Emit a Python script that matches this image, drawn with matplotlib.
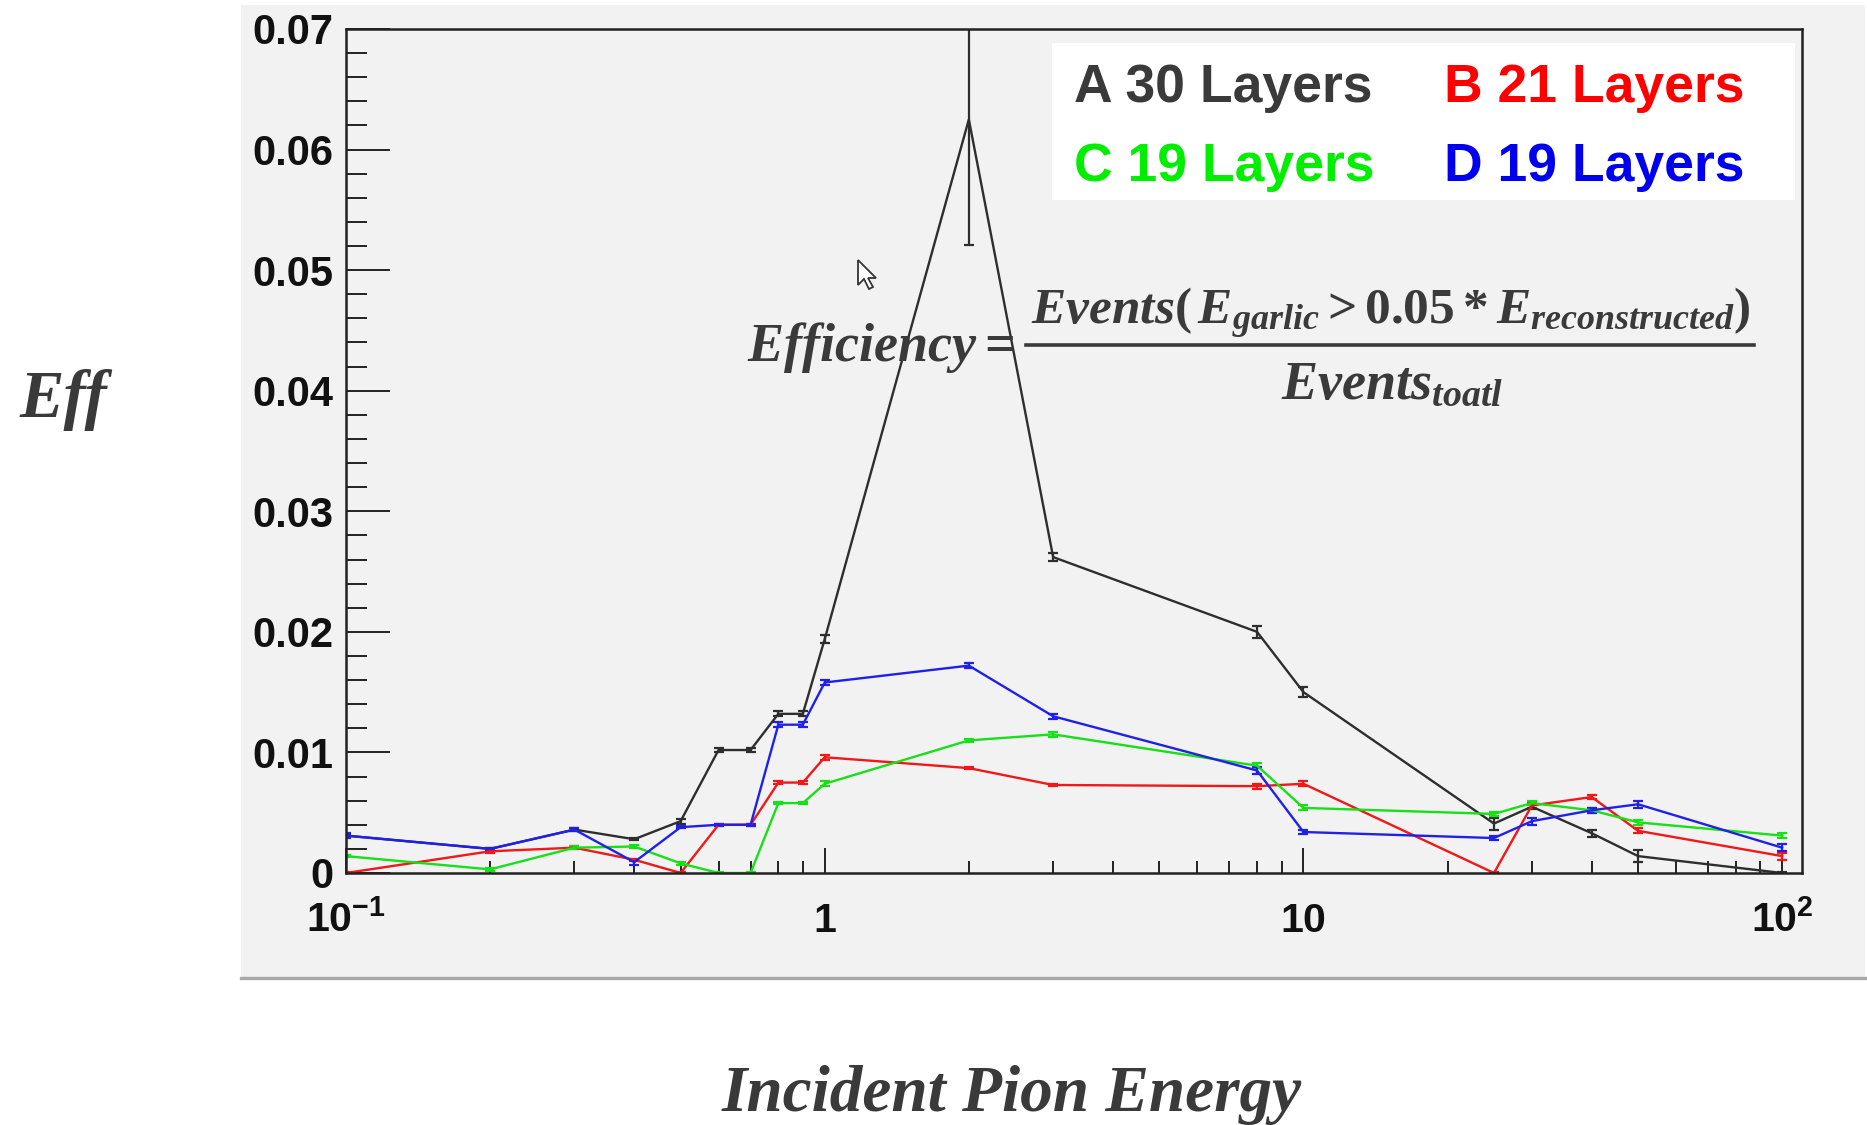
import numpy as np
import matplotlib
matplotlib.use("Agg")
import matplotlib.pyplot as plt
from matplotlib.patches import Rectangle, Polygon
from matplotlib.lines import Line2D
from matplotlib.ticker import MultipleLocator, LogLocator, NullFormatter

# Incident pion energy points (GeV)
energy = [0.1, 0.2, 0.3, 0.4, 0.5, 0.6, 0.7, 0.8, 0.9, 1, 2, 3, 8, 10, 25, 30, 40, 50, 100]

# Efficiency for each detector layout
eff_a = [0.0031, 0.0020, 0.0036, 0.0028, 0.0043, 0.0102, 0.0102, 0.0132, 0.0132, 0.0194,
         0.0625, 0.0262, 0.0200, 0.0150, 0.0041, 0.0055, 0.0033, 0.0014, 0.0000]
eff_b = [0.0000, 0.0018, 0.0021, 0.0011, 0.0000, 0.0040, 0.0040, 0.0075, 0.0075, 0.0096,
         0.0087, 0.0073, 0.0072, 0.0074, 0.0000, 0.0056, 0.0063, 0.0035, 0.0014]
eff_c = [0.0014, 0.0003, 0.0021, 0.0022, 0.0008, 0.0000, 0.0000, 0.0058, 0.0058, 0.0074,
         0.0110, 0.0115, 0.0089, 0.0054, 0.0049, 0.0058, 0.0052, 0.0042, 0.0031]
eff_d = [0.0031, 0.0020, 0.0036, 0.0009, 0.0038, 0.0040, 0.0040, 0.0123, 0.0123, 0.0158,
         0.0172, 0.0130, 0.0085, 0.0034, 0.0029, 0.0043, 0.0052, 0.0057, 0.0021]

# Statistical errors
err_a = [0.0001, 0.0001, 0.0001, 0.0001, 0.0002, 0.0002, 0.0002, 0.0002, 0.0002, 0.0003,
         0.0104, 0.0003, 0.0005, 0.0004, 0.0005, 0.0002, 0.0003, 0.0005, 0.0001]
err_b = [0.0001, 0.0001, 0.0001, 0.0001, 0.0001, 0.0001, 0.0001, 0.0001, 0.0001, 0.0002,
         0.0001, 0.0001, 0.0002, 0.0002, 0.0001, 0.0002, 0.0002, 0.0002, 0.0003]
err_c = [0.0001, 0.0001, 0.0001, 0.0001, 0.0001, 0.0001, 0.0001, 0.0001, 0.0001, 0.0002,
         0.0001, 0.0002, 0.0002, 0.0002, 0.0002, 0.0002, 0.0002, 0.0002, 0.0002]
err_d = [0.0002, 0.0001, 0.0001, 0.0002, 0.0001, 0.0001, 0.0001, 0.0002, 0.0002, 0.0002,
         0.0002, 0.0002, 0.0003, 0.0002, 0.0002, 0.0003, 0.0002, 0.0003, 0.0003]

labels = ["A 30 Layers", "B 21 Layers", "C 19 Layers", "D 19 Layers"]
line_colors = ["#2e2e2e", "#f01818", "#18e018", "#2020e8"]
text_colors = ["#3a3a3a", "#ff0000", "#00ee00", "#0000ee"]

y_ticks = [0, 0.01, 0.02, 0.03, 0.04, 0.05, 0.06, 0.07]
y_tick_labels = ["0", "0.01", "0.02", "0.03", "0.04", "0.05", "0.06", "0.07"]
x_ticks = [0.1, 1, 10, 100]
x_tick_labels = [r"$\mathbf{10^{-1}}$", r"$\mathbf{1}$", r"$\mathbf{10}$", r"$\mathbf{10^{2}}$"]

plt.rcParams["mathtext.fontset"] = "custom"
plt.rcParams["mathtext.it"] = "Liberation Serif:italic:bold"
plt.rcParams["mathtext.rm"] = "Liberation Serif:bold"
plt.rcParams["mathtext.bf"] = "Liberation Sans:bold"

W, H = 1867, 1125
fig = plt.figure(figsize=(W / 100, H / 100), dpi=100)
fig.patch.set_facecolor("white")


def fig_xy(px, py):
    """Pixel position (from top left) to figure fraction."""
    return px / W, 1 - py / H


# grey canvas behind the frame, with a shadow line at the bottom
fig.add_artist(Rectangle(fig_xy(241, 977), (1865 - 241) / W, (977 - 5) / H,
                         transform=fig.transFigure, facecolor="#f2f2f2",
                         edgecolor="none", zorder=-2))
fig.add_artist(Line2D([241 / W, 1865 / W], [1 - 978 / H, 1 - 978 / H],
                      transform=fig.transFigure, color="#a8a8a8", lw=2.4, zorder=-1))

ax = fig.add_axes([346 / W, 1 - 873 / H, (1802 - 346) / W, (873 - 29) / H])
ax.set_facecolor("#f2f2f2")
ax.set_xscale("log")

series = [(eff_a, err_a), (eff_b, err_b), (eff_c, err_c), (eff_d, err_d)]
for (vals, errs), col in zip(series, line_colors):
    ax.errorbar(energy, vals, yerr=errs, color=col, lw=1.7, elinewidth=1.6,
                capsize=3.5, capthick=1.6)

ax.set_xlim(0.1, 110)
ax.set_ylim(0, 0.07)

for sp in ax.spines.values():
    sp.set_color("#222222")
    sp.set_linewidth(1.8)

ax.set_yticks(y_ticks)
ax.set_yticklabels(y_tick_labels)
ax.yaxis.set_minor_locator(MultipleLocator(0.002))
ax.set_xticks(x_ticks)
ax.set_xticklabels([])
ax.xaxis.set_minor_locator(LogLocator(base=10, subs=np.arange(2, 10)))
ax.xaxis.set_minor_formatter(NullFormatter())

ax.tick_params(which="both", direction="in", top=False, right=False, color="#222222")
ax.tick_params(axis="y", which="major", length=32, width=1.4, pad=9,
               labelsize=30, labelcolor="#111111")
ax.tick_params(axis="y", which="minor", length=15, width=1.4)
ax.tick_params(axis="x", which="major", length=18, width=1.4)
ax.tick_params(axis="x", which="minor", length=9, width=1.4)
for lab in ax.get_yticklabels():
    lab.set_family("Liberation Sans")
    lab.set_fontweight("bold")

# x tick labels placed on a common baseline so the exponents stick up
for xt, lab in zip(x_ticks, x_tick_labels):
    ax.text(xt, -0.07, lab, transform=ax.get_xaxis_transform(), ha="center",
            va="baseline", fontsize=29.5, color="#111111", clip_on=False)

# legend: coloured labels in a white box, two columns
fig.add_artist(Rectangle(fig_xy(1052, 200), (1795 - 1052) / W, (200 - 43) / H,
                         transform=fig.transFigure, facecolor="white",
                         edgecolor="none", zorder=3))
legend_cols = [1074, 1444]
legend_rows = [102, 181]
for i, (lab, col) in enumerate(zip(labels, text_colors)):
    px = legend_cols[i % 2]
    py = legend_rows[i // 2]
    fig.text(*fig_xy(px, py), lab, ha="left", va="baseline", fontsize=38.5,
             family="Liberation Sans", weight="bold", color=col, zorder=4)

# efficiency definition
txt_col = "#3a3a3a"
fig.text(*fig_xy(1014, 361), r"$Efficiency=$", ha="right", va="baseline",
         fontsize=39, color=txt_col)
fig.text(*fig_xy(1391, 324), r"$Events(\,E_{garlic}>0.05*E_{reconstructed})$",
         ha="center", va="baseline", fontsize=37, color=txt_col)
fig.add_artist(Line2D([1026 / W, 1754 / W], [1 - 345 / H, 1 - 345 / H],
                      transform=fig.transFigure, color=txt_col, lw=2.6))
fig.text(*fig_xy(1392, 399), r"$Events_{toatl}$", ha="center", va="baseline",
         fontsize=39, color=txt_col)

# mouse pointer
tip_x, tip_y = 858, 260
shape = [(0, 0), (0, 25), (6, 19), (11, 29), (15, 27), (10, 18), (18, 18)]
fig.add_artist(Polygon([fig_xy(tip_x + px, tip_y + py) for px, py in shape],
                       closed=True, transform=fig.transFigure, facecolor="white",
                       edgecolor="#333333", lw=1.3, zorder=5))

fig.text(*fig_xy(63, 400), "Eff", ha="center", va="center", fontsize=48,
         family="Liberation Serif", style="italic", weight="bold", color=txt_col)
fig.text(*fig_xy(1012, 1095), "Incident Pion Energy", ha="center", va="center",
         fontsize=47, family="Liberation Serif", style="italic", weight="bold",
         color=txt_col)

fig.savefig("out.png", dpi=100, facecolor="white")
